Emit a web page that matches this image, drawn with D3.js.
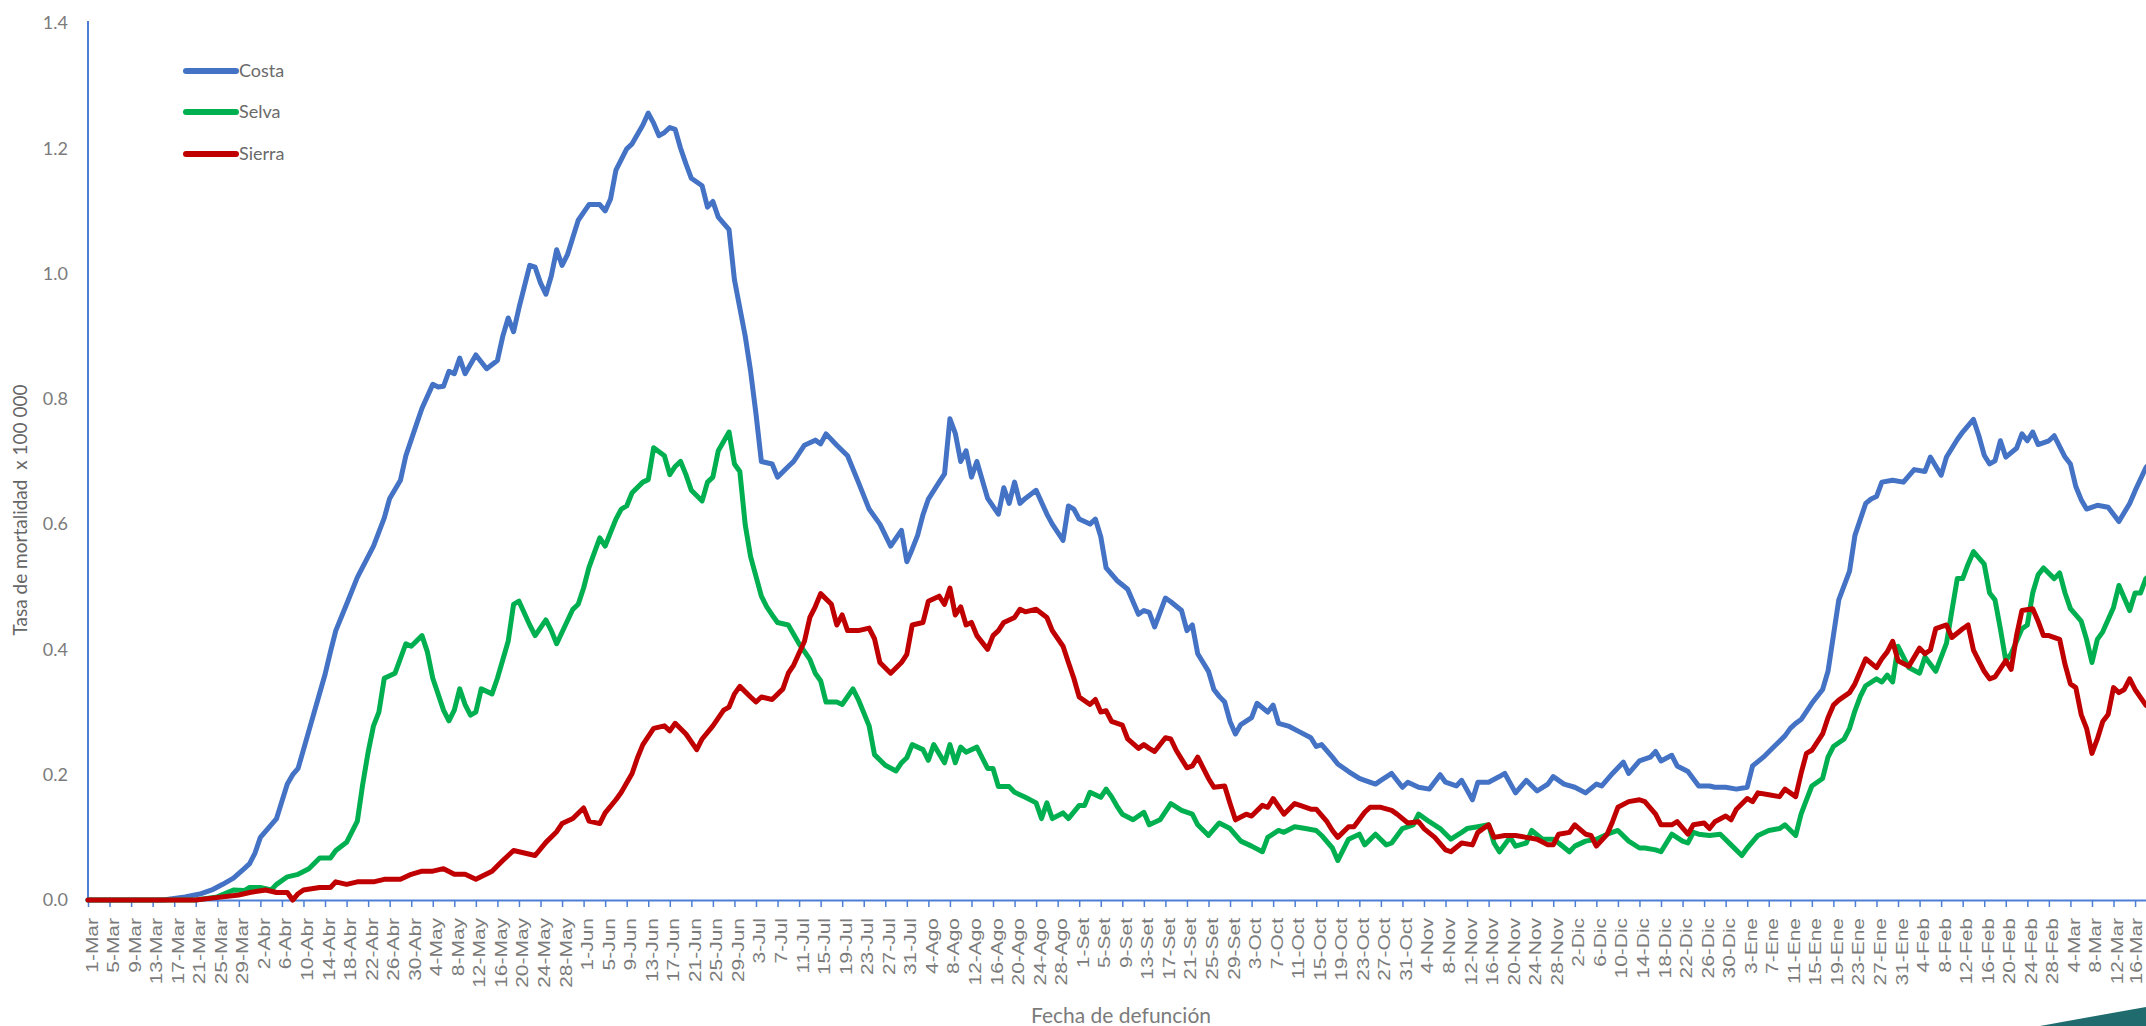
<!DOCTYPE html>
<html>
<head>
<meta charset="utf-8">
<script src="https://cdn.jsdelivr.net/npm/d3@7"></script>
<style>
  html, body { margin: 0; padding: 0; background: #ffffff; overflow: hidden; }
  svg { display: block; }
</style>
</head>
<body>
<svg id="chart" width="2146" height="1026"></svg>
<script>
// ---- DATA (day offset from 1-Mar-2020, rate x 100 000) ----
const seriesNames = ["Costa", "Selva", "Sierra"];
const seriesColors = ["#4472C4", "#00B050", "#C00000"];

const costa = [[0,0],[14,0],[18,0.005],[21,0.01],[23,0.016],[25,0.025],[27,0.035],[29,0.05],[30,0.058],[31,0.075],[32,0.10],[34,0.12],[35,0.13],[37,0.185],[38,0.20],[39,0.21],[41,0.27],[43,0.33],[44,0.36],[45,0.396],[46,0.43],[48,0.472],[50,0.515],[53,0.565],[55,0.61],[56,0.641],[58,0.67],[59,0.709],[61,0.76],[62,0.785],[64,0.823],[65,0.819],[66,0.82],[67,0.844],[68,0.84],[69,0.865],[70,0.84],[72,0.87],[74,0.848],[76,0.861],[77,0.90],[78,0.929],[79,0.907],[80,0.945],[82,1.013],[83,1.01],[84,0.985],[85,0.967],[86,0.996],[87,1.038],[88,1.013],[89,1.03],[91,1.085],[93,1.11],[95,1.11],[96,1.10],[97,1.119],[98,1.165],[100,1.199],[101,1.207],[103,1.237],[104,1.256],[105,1.24],[106,1.22],[107,1.225],[108,1.233],[109,1.23],[110,1.2],[111,1.175],[112,1.152],[114,1.14],[115,1.106],[116,1.115],[117,1.09],[119,1.07],[120,0.99],[122,0.9],[123,0.844],[124,0.776],[125,0.70],[127,0.696],[128,0.675],[130,0.692],[131,0.70],[133,0.726],[135,0.734],[136,0.728],[137,0.744],[139,0.726],[141,0.709],[143,0.667],[145,0.624],[147,0.60],[149,0.565],[151,0.59],[152,0.54],[153,0.56],[154,0.582],[155,0.615],[156,0.64],[158,0.667],[159,0.68],[160,0.768],[161,0.745],[162,0.70],[163,0.717],[164,0.675],[165,0.70],[167,0.641],[169,0.616],[170,0.658],[171,0.633],[172,0.667],[173,0.633],[174,0.641],[176,0.654],[178,0.616],[179,0.60],[181,0.574],[182,0.629],[183,0.624],[184,0.608],[186,0.60],[187,0.608],[188,0.58],[189,0.53],[191,0.51],[193,0.496],[195,0.456],[196,0.462],[197,0.459],[198,0.436],[200,0.482],[201,0.476],[203,0.462],[204,0.43],[205,0.439],[206,0.393],[208,0.365],[209,0.336],[210,0.325],[211,0.316],[212,0.285],[213,0.265],[214,0.28],[216,0.291],[217,0.314],[219,0.30],[220,0.311],[221,0.282],[223,0.277],[225,0.268],[227,0.259],[228,0.245],[229,0.248],[231,0.228],[232,0.217],[234,0.205],[236,0.194],[237,0.191],[239,0.185],[240,0.191],[242,0.202],[244,0.18],[245,0.188],[247,0.18],[249,0.177],[251,0.20],[252,0.188],[254,0.182],[255,0.191],[257,0.16],[258,0.188],[260,0.188],[262,0.197],[263,0.202],[265,0.171],[267,0.191],[269,0.174],[271,0.185],[272,0.197],[274,0.185],[276,0.18],[278,0.171],[280,0.185],[281,0.182],[283,0.202],[285,0.22],[286,0.202],[288,0.222],[290,0.228],[291,0.237],[292,0.222],[294,0.231],[295,0.214],[297,0.205],[299,0.182],[301,0.182],[302,0.18],[304,0.18],[306,0.177],[308,0.18],[309,0.214],[311,0.228],[313,0.245],[315,0.262],[316,0.274],[317,0.282],[318,0.288],[320,0.314],[322,0.336],[323,0.365],[324,0.422],[325,0.479],[327,0.525],[328,0.582],[330,0.633],[331,0.64],[332,0.644],[333,0.667],[335,0.67],[337,0.667],[339,0.687],[341,0.684],[342,0.707],[344,0.678],[345,0.707],[347,0.735],[348,0.747],[350,0.767],[351,0.741],[352,0.71],[353,0.696],[354,0.701],[355,0.733],[356,0.707],[358,0.721],[359,0.744],[360,0.733],[361,0.747],[362,0.727],[364,0.733],[365,0.741],[367,0.707],[368,0.696],[369,0.66],[370,0.639],[371,0.624],[373,0.63],[375,0.627],[377,0.604],[379,0.633],[380,0.653],[382,0.69],[383,0.70]];

const selva = [[0,0],[20,0],[24,0.005],[27,0.016],[29,0.015],[30,0.02],[32,0.02],[34,0.016],[35,0.025],[37,0.037],[39,0.041],[41,0.05],[43,0.067],[45,0.067],[46,0.079],[48,0.092],[50,0.126],[51,0.185],[52,0.236],[53,0.278],[54,0.30],[55,0.354],[57,0.362],[59,0.409],[60,0.405],[62,0.422],[63,0.396],[64,0.354],[66,0.303],[67,0.286],[68,0.303],[69,0.337],[70,0.312],[71,0.295],[72,0.30],[73,0.337],[75,0.329],[76,0.354],[78,0.413],[79,0.472],[80,0.477],[82,0.439],[83,0.422],[85,0.447],[86,0.43],[87,0.409],[90,0.464],[91,0.472],[92,0.498],[93,0.531],[95,0.578],[96,0.565],[98,0.608],[99,0.624],[100,0.629],[101,0.65],[103,0.667],[104,0.671],[105,0.722],[107,0.709],[108,0.679],[109,0.692],[110,0.70],[111,0.679],[112,0.654],[114,0.637],[115,0.667],[116,0.675],[117,0.717],[119,0.747],[120,0.696],[121,0.684],[122,0.599],[123,0.548],[125,0.485],[126,0.468],[127,0.455],[128,0.443],[130,0.439],[132,0.409],[134,0.384],[135,0.362],[136,0.35],[137,0.316],[139,0.316],[140,0.312],[142,0.337],[143,0.32],[145,0.278],[146,0.232],[148,0.215],[150,0.206],[151,0.219],[152,0.227],[153,0.248],[155,0.24],[156,0.223],[157,0.248],[159,0.219],[160,0.248],[161,0.219],[162,0.244],[163,0.236],[165,0.244],[167,0.21],[168,0.21],[169,0.181],[171,0.181],[172,0.172],[174,0.164],[176,0.155],[177,0.13],[178,0.155],[179,0.13],[181,0.139],[182,0.13],[184,0.151],[185,0.151],[186,0.172],[188,0.164],[189,0.177],[190,0.165],[191,0.15],[192,0.137],[194,0.128],[196,0.14],[197,0.12],[199,0.128],[201,0.154],[203,0.143],[205,0.137],[206,0.12],[208,0.103],[210,0.123],[212,0.114],[214,0.094],[216,0.086],[218,0.077],[219,0.10],[221,0.111],[222,0.108],[224,0.117],[226,0.114],[228,0.111],[229,0.103],[231,0.083],[232,0.063],[234,0.097],[236,0.105],[237,0.088],[239,0.105],[241,0.088],[242,0.091],[244,0.114],[246,0.12],[247,0.137],[249,0.125],[251,0.114],[253,0.097],[255,0.108],[256,0.114],[258,0.117],[260,0.12],[261,0.091],[262,0.077],[264,0.10],[265,0.086],[267,0.091],[268,0.111],[270,0.097],[272,0.097],[273,0.091],[275,0.077],[276,0.086],[278,0.094],[280,0.097],[282,0.105],[284,0.111],[286,0.094],[288,0.083],[289,0.083],[291,0.08],[292,0.077],[293,0.091],[294,0.105],[296,0.094],[297,0.091],[298,0.108],[299,0.105],[301,0.103],[303,0.105],[305,0.088],[307,0.071],[308,0.083],[310,0.103],[312,0.111],[314,0.114],[315,0.12],[317,0.103],[318,0.137],[319,0.16],[320,0.182],[322,0.194],[323,0.228],[324,0.245],[326,0.257],[327,0.274],[328,0.302],[329,0.325],[330,0.342],[332,0.353],[333,0.348],[334,0.359],[335,0.348],[336,0.405],[338,0.371],[340,0.362],[341,0.388],[343,0.365],[345,0.41],[346,0.462],[347,0.513],[348,0.513],[349,0.536],[350,0.556],[352,0.536],[353,0.49],[354,0.479],[355,0.433],[356,0.382],[357,0.393],[359,0.433],[360,0.439],[361,0.49],[362,0.519],[363,0.53],[365,0.513],[366,0.522],[367,0.49],[368,0.465],[370,0.445],[371,0.416],[372,0.379],[373,0.416],[374,0.428],[376,0.467],[377,0.502],[379,0.462],[380,0.49],[381,0.49],[382,0.513],[383,0.52]];

const sierra = [[0,0],[20,0],[23,0.003],[28,0.008],[30,0.012],[33,0.016],[35,0.012],[37,0.012],[38,0.0],[39,0.01],[40,0.016],[43,0.02],[45,0.02],[46,0.029],[48,0.025],[50,0.029],[53,0.029],[55,0.033],[58,0.033],[60,0.041],[62,0.046],[64,0.046],[66,0.05],[68,0.041],[70,0.041],[72,0.033],[75,0.046],[77,0.063],[79,0.079],[81,0.075],[83,0.071],[85,0.092],[87,0.109],[88,0.122],[90,0.13],[92,0.147],[93,0.126],[95,0.122],[96,0.139],[98,0.16],[99,0.172],[101,0.202],[102,0.227],[103,0.248],[105,0.274],[107,0.278],[108,0.27],[109,0.282],[111,0.265],[113,0.24],[114,0.257],[116,0.278],[118,0.303],[119,0.308],[120,0.329],[121,0.341],[123,0.324],[124,0.316],[125,0.324],[127,0.32],[129,0.337],[130,0.362],[131,0.375],[133,0.413],[134,0.451],[135,0.468],[136,0.489],[138,0.472],[139,0.439],[140,0.455],[141,0.43],[143,0.43],[145,0.434],[146,0.417],[147,0.379],[149,0.362],[151,0.379],[152,0.392],[153,0.439],[155,0.443],[156,0.477],[158,0.485],[159,0.472],[160,0.498],[161,0.455],[162,0.468],[163,0.439],[164,0.443],[165,0.422],[167,0.40],[168,0.422],[169,0.43],[170,0.443],[172,0.451],[173,0.464],[174,0.46],[176,0.464],[178,0.451],[179,0.43],[181,0.405],[182,0.379],[183,0.354],[184,0.324],[186,0.312],[187,0.32],[188,0.30],[189,0.302],[190,0.285],[192,0.279],[193,0.257],[195,0.242],[196,0.248],[197,0.242],[198,0.237],[200,0.259],[201,0.257],[202,0.239],[204,0.211],[205,0.214],[206,0.228],[207,0.211],[208,0.194],[209,0.18],[211,0.182],[212,0.154],[213,0.128],[215,0.137],[216,0.134],[218,0.151],[219,0.148],[220,0.162],[222,0.137],[224,0.154],[225,0.151],[227,0.145],[228,0.145],[230,0.125],[231,0.111],[232,0.10],[234,0.117],[235,0.117],[237,0.14],[238,0.148],[240,0.148],[242,0.143],[243,0.137],[245,0.123],[247,0.125],[248,0.114],[250,0.10],[252,0.08],[253,0.077],[255,0.091],[257,0.088],[258,0.108],[260,0.12],[261,0.10],[263,0.103],[265,0.103],[267,0.10],[269,0.097],[271,0.088],[272,0.088],[273,0.105],[275,0.108],[276,0.12],[278,0.105],[279,0.103],[280,0.086],[282,0.105],[283,0.125],[284,0.148],[286,0.157],[288,0.16],[289,0.157],[291,0.137],[292,0.12],[294,0.12],[295,0.125],[297,0.105],[298,0.12],[300,0.123],[301,0.114],[302,0.125],[304,0.134],[305,0.128],[306,0.145],[308,0.162],[309,0.157],[310,0.171],[312,0.168],[314,0.165],[315,0.177],[317,0.165],[318,0.202],[319,0.234],[320,0.239],[322,0.265],[323,0.291],[324,0.311],[325,0.319],[327,0.331],[328,0.345],[329,0.365],[330,0.385],[332,0.371],[333,0.385],[334,0.396],[335,0.413],[336,0.382],[338,0.373],[340,0.402],[341,0.393],[342,0.399],[343,0.433],[345,0.439],[346,0.419],[348,0.433],[349,0.439],[350,0.399],[352,0.365],[353,0.353],[354,0.356],[356,0.382],[357,0.368],[358,0.422],[359,0.462],[361,0.465],[362,0.445],[363,0.422],[364,0.422],[366,0.416],[367,0.376],[368,0.345],[369,0.339],[370,0.296],[371,0.274],[372,0.234],[373,0.257],[374,0.285],[375,0.296],[376,0.339],[377,0.331],[378,0.336],[379,0.353],[380,0.336],[382,0.311],[383,0.305]];

// x tick labels, one every 4 days starting 1-Mar
const tickLabels = ["1-Mar","5-Mar","9-Mar","13-Mar","17-Mar","21-Mar","25-Mar","29-Mar",
  "2-Abr","6-Abr","10-Abr","14-Abr","18-Abr","22-Abr","26-Abr","30-Abr",
  "4-May","8-May","12-May","16-May","20-May","24-May","28-May",
  "1-Jun","5-Jun","9-Jun","13-Jun","17-Jun","21-Jun","25-Jun","29-Jun",
  "3-Jul","7-Jul","11-Jul","15-Jul","19-Jul","23-Jul","27-Jul","31-Jul",
  "4-Ago","8-Ago","12-Ago","16-Ago","20-Ago","24-Ago","28-Ago",
  "1-Set","5-Set","9-Set","13-Set","17-Set","21-Set","25-Set","29-Set",
  "3-Oct","7-Oct","11-Oct","15-Oct","19-Oct","23-Oct","27-Oct","31-Oct",
  "4-Nov","8-Nov","12-Nov","16-Nov","20-Nov","24-Nov","28-Nov",
  "2-Dic","6-Dic","10-Dic","14-Dic","18-Dic","22-Dic","26-Dic","30-Dic",
  "3-Ene","7-Ene","11-Ene","15-Ene","19-Ene","23-Ene","27-Ene","31-Ene",
  "4-Feb","8-Feb","12-Feb","16-Feb","20-Feb","24-Feb","28-Feb",
  "4-Mar","8-Mar","12-Mar","16-Mar"];
const tickStep = 4;
const yTicks = [0, 0.2, 0.4, 0.6, 0.8, 1.0, 1.2, 1.4];
const yTitle = "Tasa de mortalidad  x 100 000";
const xTitle = "Fecha de defunción";

// ---- DRAW ----
const svg = d3.select("#chart");
const axisColor = "#4d7fd6";
const labelColor = "#7b7b7b";

const x = d3.scaleLinear().domain([0, 382]).range([88, 88 + 382 * 5.387]);
const y = d3.scaleLinear().domain([0, 1.4]).range([900, 22.9]);

// y axis line and labels
svg.append("line")
  .attr("x1", x(0)).attr("x2", x(0))
  .attr("y1", y(1.4) - 2).attr("y2", y(0))
  .attr("stroke", axisColor).attr("stroke-width", 2);

svg.append("g").selectAll("text").data(yTicks).join("text")
  .attr("x", 68).attr("y", d => y(d))
  .attr("dy", "0.35em")
  .attr("text-anchor", "end")
  .attr("font-family", "Lato, 'Open Sans', sans-serif")
  .attr("font-size", 18)
  .attr("fill", labelColor)
  .text(d => d3.format(".1f")(d));

// x axis
const xAxis = d3.axisBottom(x)
  .tickValues(tickLabels.map((_, i) => i * tickStep))
  .tickFormat((d, i) => tickLabels[i])
  .tickSize(7)
  .tickSizeOuter(0);

const gx = svg.append("g").attr("transform", `translate(0,${y(0)})`).call(xAxis);
gx.select(".domain").attr("stroke", axisColor).attr("stroke-width", 2);
gx.selectAll(".tick line").attr("stroke", axisColor).attr("stroke-width", 1.5);
const nLabels = tickLabels.length;
gx.selectAll(".tick text")
  .attr("x", 0).attr("y", 0).attr("dy", null)
  .attr("transform", (d, i) => `translate(${i === nLabels - 1 ? 6 : 9},18) rotate(-90) scale(1.27,1)`)
  .style("text-anchor", "end")
  .attr("font-family", "'Liberation Sans', Arial, sans-serif")
  .attr("font-size", 16.5)
  .attr("fill", labelColor);

// lines
const line = d3.line().x(d => x(d[0])).y(d => y(d[1])).curve(d3.curveLinear);
const allSeries = [costa, selva, sierra];
svg.append("g").selectAll("path").data(allSeries).join("path")
  .attr("d", line)
  .attr("fill", "none")
  .attr("stroke", (d, i) => seriesColors[i])
  .attr("stroke-width", 5)
  .attr("stroke-linejoin", "round")
  .attr("stroke-linecap", "round");

// legend
const legend = svg.append("g");
const legendY = [71, 112, 154];
seriesNames.forEach((name, i) => {
  legend.append("line")
    .attr("x1", 186).attr("x2", 236)
    .attr("y1", legendY[i]).attr("y2", legendY[i])
    .attr("stroke", seriesColors[i]).attr("stroke-width", 6)
    .attr("stroke-linecap", "round");
  legend.append("text")
    .attr("x", 239).attr("y", legendY[i]).attr("dy", "0.36em")
    .attr("font-family", "Lato, 'Open Sans', sans-serif")
    .attr("font-size", 18)
    .attr("fill", "#6a6a6a")
    .text(name);
});

// axis titles
svg.append("text")
  .attr("transform", "translate(27,510) rotate(-90)")
  .attr("text-anchor", "middle")
  .style("white-space", "pre")
  .attr("font-family", "Lato, 'Open Sans', sans-serif")
  .attr("font-size", 19)
  .attr("fill", "#666666")
  .text(yTitle);

svg.append("text")
  .attr("x", 1121).attr("y", 1023)
  .attr("text-anchor", "middle")
  .attr("font-family", "Lato, 'Open Sans', sans-serif")
  .attr("font-size", 21)
  .attr("fill", labelColor)
  .text(xTitle);

// decorative corner shape
svg.append("path")
  .attr("d", "M2040,1026 Q2095,1016 2146,1007 L2146,1026 Z")
  .attr("fill", "#1f6b6d");
</script>
</body>
</html>
